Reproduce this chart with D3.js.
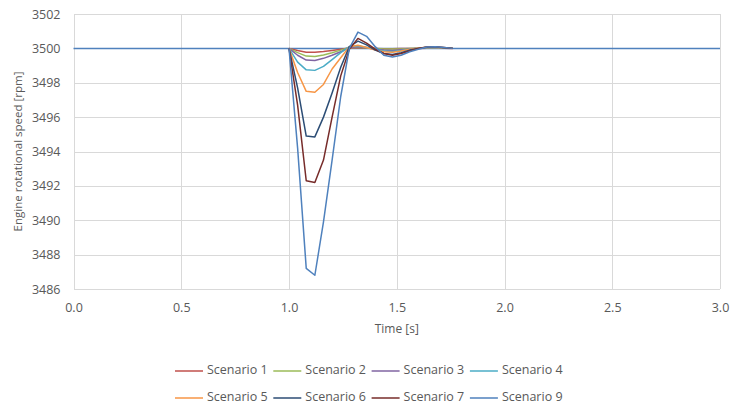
<!DOCTYPE html>
<html>
<head>
<meta charset="utf-8">
<script src="https://cdn.jsdelivr.net/npm/d3@7"></script>
<style>
  html, body { margin: 0; padding: 0; background: #fff; }
  svg text { font-family: "Open Sans", "Liberation Sans", sans-serif; fill: #595959; }
</style>
</head>
<body>
<svg id="chart" width="732" height="410"></svg>
<script>
// Sample times of the transient (s)
const times = [1.00, 1.04, 1.08, 1.12, 1.16, 1.20, 1.24, 1.28, 1.32, 1.36,
               1.40, 1.44, 1.48, 1.52, 1.56, 1.60, 1.64, 1.68, 1.72, 1.76];

// Engine speed per scenario (rpm)
const scenario1 = [3500, 3499.88, 3499.78, 3499.78, 3499.82, 3499.88, 3499.95, 3500.02, 3500.03, 3500.02,
                   3500.00, 3499.98, 3499.98, 3499.99, 3500.00, 3500.00, 3500.01, 3500.01, 3500.00, 3500.00];
const scenario2 = [3500, 3499.75, 3499.55, 3499.53, 3499.62, 3499.75, 3499.90, 3500.05, 3500.06, 3500.03,
                   3500.00, 3499.97, 3499.96, 3499.97, 3499.99, 3500.01, 3500.02, 3500.02, 3500.01, 3500.00];
const scenario3 = [3500, 3499.60, 3499.32, 3499.30, 3499.42, 3499.60, 3499.80, 3500.05, 3500.10, 3500.05,
                   3499.95, 3499.90, 3499.88, 3499.92, 3499.97, 3500.00, 3500.03, 3500.03, 3500.01, 3500.00];
const scenario4 = [3500, 3499.20, 3498.75, 3498.72, 3498.95, 3499.35, 3499.75, 3500.10, 3500.15, 3500.05,
                   3499.95, 3499.85, 3499.82, 3499.88, 3499.95, 3500.02, 3500.05, 3500.04, 3500.01, 3500.00];
const scenario5 = [3500, 3498.60, 3497.50, 3497.45, 3497.90, 3498.80, 3499.45, 3500.10, 3500.18, 3500.05,
                   3499.90, 3499.80, 3499.78, 3499.85, 3499.95, 3500.02, 3500.06, 3500.05, 3500.02, 3500.00];
const scenario6 = [3500, 3497.70, 3494.90, 3494.85, 3496.00, 3497.40, 3498.90, 3500.10, 3500.42, 3500.20,
                   3499.90, 3499.70, 3499.65, 3499.75, 3499.90, 3500.00, 3500.07, 3500.08, 3500.04, 3500.00];
const scenario7 = [3500, 3496.70, 3492.30, 3492.20, 3493.50, 3496.00, 3498.40, 3499.95, 3500.58, 3500.30,
                   3499.95, 3499.70, 3499.60, 3499.70, 3499.85, 3500.00, 3500.08, 3500.10, 3500.05, 3500.00];
const scenario9 = [3500, 3494.20, 3487.20, 3486.80, 3489.90, 3493.50, 3497.20, 3500.00, 3500.95, 3500.70,
                   3500.10, 3499.60, 3499.50, 3499.60, 3499.80, 3499.95, 3500.08, 3500.10, 3500.05, 3500.00];

// Steady-state reference over the whole time window
const refTimes = [0.0, 3.0];
const refSpeed = [3500, 3500];

const seriesNames = ["Scenario 1", "Scenario 2", "Scenario 3", "Scenario 4",
                     "Scenario 5", "Scenario 6", "Scenario 7", "Scenario 9"];
const seriesValues = [scenario1, scenario2, scenario3, scenario4,
                      scenario5, scenario6, scenario7, scenario9];
const seriesColors = ["#C0504D", "#9BBB59", "#8064A2", "#4BACC6",
                      "#F79646", "#2C4D75", "#772C2A", "#4F81BD"];
const refColor = "#4F81BD";

const xTicks = [0, 0.5, 1.0, 1.5, 2.0, 2.5, 3.0];
const yTicks = [3486, 3488, 3490, 3492, 3494, 3496, 3498, 3500, 3502];

const svg = d3.select("#chart");
const plot = { left: 73.5, right: 720, top: 14, bottom: 289 };

const x = d3.scaleLinear().domain([0, 3]).range([plot.left, plot.right]);
const y = d3.scaleLinear().domain([3486, 3502]).range([plot.bottom, plot.top]);

// Grid
const grid = svg.append("g").attr("stroke", "#D9D9D9").attr("stroke-width", 1).attr("shape-rendering", "crispEdges");
grid.selectAll("line.h").data(yTicks).join("line").attr("class", "h")
  .attr("x1", plot.left).attr("x2", plot.right)
  .attr("y1", d => Math.round(y(d)) + 0.5).attr("y2", d => Math.round(y(d)) + 0.5);
grid.selectAll("line.v").data(xTicks).join("line").attr("class", "v")
  .attr("y1", plot.top).attr("y2", plot.bottom)
  .attr("x1", d => Math.round(x(d)) + 0.5).attr("x2", d => Math.round(x(d)) + 0.5);

// Axes (labels only, the grid provides the lines)
const yAxis = d3.axisLeft(y).tickValues(yTicks).tickSize(0).tickPadding(13).tickFormat(d3.format("d"));
const gy = svg.append("g").attr("transform", `translate(${plot.left},0)`).call(yAxis);
gy.select(".domain").remove();
gy.selectAll("text").attr("font-size", "12.5px").style("fill", "#595959")
  .style("font-family", "'Open Sans', sans-serif");

const xAxis = d3.axisBottom(x).tickValues(xTicks).tickSize(0).tickPadding(14).tickFormat(d3.format(".1f"));
const gx = svg.append("g").attr("transform", `translate(0,${plot.bottom})`).call(xAxis);
gx.select(".domain").remove();
gx.selectAll("text").attr("font-size", "12.5px").style("fill", "#595959")
  .style("font-family", "'Open Sans', sans-serif");

// Axis titles
svg.append("text")
  .attr("transform", `translate(19,${(plot.top + plot.bottom) / 2}) rotate(-90)`)
  .attr("text-anchor", "middle").attr("dominant-baseline", "middle")
  .attr("font-size", "11.5px")
  .text("Engine rotational speed [rpm]");
svg.append("text")
  .attr("x", (plot.left + plot.right) / 2).attr("y", 330)
  .attr("text-anchor", "middle").attr("dominant-baseline", "middle")
  .attr("font-size", "12px")
  .text("Time [s]");

// Lines
const line = d3.line().x(d => x(d[0])).y(d => y(d[1]));
const lines = svg.append("g").attr("fill", "none").attr("stroke-width", 1.5).attr("stroke-linejoin", "round");

lines.append("path")
  .attr("d", line(refTimes.map((t, i) => [t, refSpeed[i]])))
  .attr("stroke", refColor);

seriesValues.forEach((vals, k) => {
  lines.append("path")
    .attr("d", line(times.map((t, i) => [t, vals[i]])))
    .attr("stroke", seriesColors[k]);
});

// Legend: two rows of four entries
const legend = svg.append("g");
seriesNames.forEach((name, k) => {
  const col = k % 4, row = Math.floor(k / 4);
  const lx = 175 + col * 98.3;
  const ly = 371 + row * 27;
  legend.append("line")
    .attr("x1", lx).attr("x2", lx + 28).attr("y1", ly).attr("y2", ly)
    .attr("stroke", seriesColors[k]).attr("stroke-width", 1.5);
  legend.append("text")
    .attr("x", lx + 32).attr("y", ly)
    .attr("dominant-baseline", "middle")
    .attr("font-size", "12.5px")
    .text(name);
});
</script>
</body>
</html>
